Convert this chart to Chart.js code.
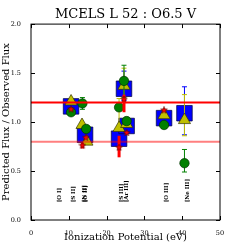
<!DOCTYPE html>
<html>
<head>
<meta charset="utf-8">
<script src="https://cdn.jsdelivr.net/npm/chart.js@4/dist/chart.umd.min.js"></script>
<style>
  html, body { margin: 0; padding: 0; background: #fff; }
  #wrap { width: 245px; height: 245px; }
</style>
</head>
<body>
<div id="wrap"><canvas id="c" width="245" height="245"></canvas></div>
<script>
// Data
const titleText = 'MCELS L 52 : O6.5 V';

const squareX = [10.6, 14.3, 23.3, 24.6, 25.3, 35.2, 40.6];
const squareY = [1.16, 0.87, 0.83, 1.34, 0.96, 1.04, 1.09];
const squareLo = [null, null, null, 1.22, null, null, 0.87];
const squareHi = [null, null, null, 1.52, null, null, 1.36];

const triX = [10.6, 13.5, 14.8, 23.3, 24.6, 25.3, 35.2, 40.6];
const triY = [1.21, 0.97, 0.80, 0.94, 1.37, 0.98, 1.07, 1.02];
const triLo = [null, null, null, 0.94, 1.20, null, null, 0.86];
const triHi = [null, null, null, 1.24, 1.55, null, null, 1.28];

const circX = [10.6, 13.6, 14.6, 23.3, 24.6, 25.3, 35.2, 40.6];
const circY = [1.10, 1.19, 0.93, 1.15, 1.42, 1.01, 0.97, 0.58];
const circLo = [null, 1.13, null, null, 1.25, null, null, 0.49];
const circHi = [null, 1.25, null, null, 1.58, null, null, 0.72];

const starX = [10.6, 13.6, 14.5, 23.3, 24.6, 25.3, 35.2];
const starY = [1.13, 0.76, 0.84, 0.74, 1.23, 0.89, 1.12];
const starLo = [null, 0.73, null, 0.64, 1.10, null, null];
const starHi = [null, 0.79, null, 0.86, 1.28, null, null];

const upperLimit = 1.2;
const lowerLimit = 0.8;

const lineLabels = ['[O I]', '[S II]', '[N II]', '[O II]', '[S III]', '[Ar III]', '[O III]', '[Ne III]'];
const lineLabelX = [7.6, 11.2, 14.1, 14.5, 24.0, 25.3, 35.8, 41.3];
const lineLabelY = 0.18;

const xTicks = [0, 10, 20, 30, 40, 50];
const yTicks = [0.0, 0.5, 1.0, 1.5, 2.0];

const SERIF = "'DejaVu Serif', serif";

function pts(xs, ys) {
  return xs.map((x, i) => ({ x, y: ys[i] }));
}

// filled star marker like matplotlib '*'
function makeStar(size, fill, edge) {
  const cv = document.createElement('canvas');
  cv.width = size; cv.height = size;
  const g = cv.getContext('2d');
  const cx = size / 2, cy = size / 2, ro = size / 2 - 0.5, ri = ro * 0.45;
  g.beginPath();
  for (let i = 0; i < 10; i++) {
    const r = i % 2 ? ri : ro;
    const a = -Math.PI / 2 + i * Math.PI / 5;
    const px = cx + r * Math.cos(a), py = cy + r * Math.sin(a);
    if (i === 0) g.moveTo(px, py); else g.lineTo(px, py);
  }
  g.closePath();
  g.fillStyle = fill;
  g.fill();
  g.lineWidth = 0.7;
  g.strokeStyle = edge;
  g.stroke();
  return cv;
}

const errorBars = {
  id: 'errorBars',
  beforeDatasetDraw(chart, args) {
    const ds = chart.data.datasets[args.index];
    if (!ds.errLo) return;
    const { ctx, scales: { x, y } } = chart;
    ctx.save();
    ctx.strokeStyle = ds.errColor;
    ctx.lineWidth = ds.errWidth || 1;
    ds.data.forEach((p, i) => {
      const lo = ds.errLo[i], hi = ds.errHi[i];
      if (lo == null) return;
      const px = x.getPixelForValue(p.x);
      const y1 = y.getPixelForValue(lo), y2 = y.getPixelForValue(hi);
      ctx.beginPath();
      ctx.moveTo(px, y1); ctx.lineTo(px, y2);
      ctx.stroke();
      if (!ds.errWidth || ds.errWidth < 2) {
        ctx.beginPath();
        ctx.moveTo(px - 2.5, y1); ctx.lineTo(px + 2.5, y1);
        ctx.moveTo(px - 2.5, y2); ctx.lineTo(px + 2.5, y2);
        ctx.stroke();
      }
    });
    ctx.restore();
  },
};

const frameAndLabels = {
  id: 'frameAndLabels',
  afterDraw(chart) {
    const { ctx, chartArea: a, scales: { x, y } } = chart;
    ctx.save();
    // rotated line labels
    ctx.fillStyle = '#000';
    ctx.font = 'bold 5.5px ' + SERIF;
    ctx.textAlign = 'left';
    ctx.textBaseline = 'middle';
    lineLabels.forEach((t, i) => {
      ctx.save();
      ctx.translate(x.getPixelForValue(lineLabelX[i]), y.getPixelForValue(lineLabelY));
      ctx.rotate(-Math.PI / 2);
      ctx.fillText(t, 0, 0);
      ctx.restore();
    });
    // inward ticks on all sides
    ctx.strokeStyle = '#000';
    ctx.lineWidth = 1;
    ctx.beginPath();
    xTicks.forEach((v) => {
      const px = Math.round(x.getPixelForValue(v)) + 0.5;
      ctx.moveTo(px, a.bottom); ctx.lineTo(px, a.bottom - 4);
      ctx.moveTo(px, a.top); ctx.lineTo(px, a.top + 4);
    });
    yTicks.forEach((v) => {
      const py = Math.round(y.getPixelForValue(v)) + 0.5;
      ctx.moveTo(a.left, py); ctx.lineTo(a.left + 4, py);
      ctx.moveTo(a.right, py); ctx.lineTo(a.right - 4, py);
    });
    ctx.stroke();
    ctx.strokeRect(a.left, a.top, a.right - a.left, a.bottom - a.top);
    ctx.restore();
  },
};

new Chart(document.getElementById('c'), {
  type: 'scatter',
  data: {
    datasets: [
      {
        label: 'limit high',
        type: 'line',
        data: [{ x: 0, y: upperLimit }, { x: 50, y: upperLimit }],
        borderColor: '#ff0000',
        borderWidth: 2,
        pointRadius: 0,
        order: 0,
      },
      {
        label: 'limit low',
        type: 'line',
        data: [{ x: 0, y: lowerLimit }, { x: 50, y: lowerLimit }],
        borderColor: 'rgba(255,0,0,0.5)',
        borderWidth: 2,
        pointRadius: 0,
        order: 1,
      },
      {
        label: 'star',
        data: pts(starX, starY),
        errLo: starLo, errHi: starHi, errColor: '#ff0000', errWidth: 3,
        pointStyle: makeStar(8, '#ff0000', '#600000'),
        order: 2,
      },
      {
        label: 'circle',
        data: pts(circX, circY),
        errLo: circLo, errHi: circHi, errColor: '#008000',
        pointStyle: 'circle',
        pointRadius: 4.7,
        backgroundColor: '#008000',
        borderColor: '#003300',
        borderWidth: 0.7,
        order: 3,
      },
      {
        label: 'triangle',
        data: pts(triX, triY),
        errLo: triLo, errHi: triHi, errColor: '#bfbf00',
        pointStyle: 'triangle',
        pointRadius: 7,
        backgroundColor: '#bfbf00',
        borderColor: '#333300',
        borderWidth: 0.7,
        order: 4,
      },
      {
        label: 'square',
        data: pts(squareX, squareY),
        errLo: squareLo, errHi: squareHi, errColor: '#0000ff',
        pointStyle: 'rect',
        pointRadius: 11,
        backgroundColor: '#0000ff',
        borderColor: '#000033',
        borderWidth: 0.7,
        order: 5,
      },
    ],
  },
  options: {
    responsive: false,
    animation: false,
    events: [],
    layout: { padding: { right: 25, left: 0, bottom: 0 } },
    plugins: {
      legend: { display: false },
      tooltip: { enabled: false },
      title: {
        display: true,
        fullSize: false,
        text: titleText,
        color: '#000',
        font: { family: SERIF, size: 13, weight: 'normal' },
        padding: { top: 7, bottom: 1.5 },
      },
    },
    scales: {
      x: {
        type: 'linear',
        min: 0, max: 50,
        afterBuildTicks: (s) => { s.ticks = xTicks.map((v) => ({ value: v })); },
        afterFit: (s) => { s.height = 25; },
        grid: { display: false },
        border: { display: false },
        ticks: { color: '#000', font: { family: SERIF, size: 6.5 }, padding: 1, maxRotation: 0 },
        title: {
          display: true,
          text: 'Ionization Potential (eV)',
          color: '#000',
          font: { family: SERIF, size: 10 },
          padding: { top: 2, bottom: 2 },
        },
      },
      y: {
        type: 'linear',
        min: 0, max: 2,
        afterBuildTicks: (s) => { s.ticks = yTicks.map((v) => ({ value: v })); },
        afterFit: (s) => { s.width = 31; },
        grid: { display: false },
        border: { display: false },
        ticks: {
          color: '#000',
          font: { family: SERIF, size: 6.5 },
          padding: 2,
          callback: (v) => v.toFixed(1),
        },
        title: {
          display: true,
          text: 'Predicted Flux / Observed Flux',
          color: '#000',
          font: { family: SERIF, size: 10 },
          padding: { top: 0, bottom: 0 },
        },
      },
    },
  },
  plugins: [errorBars, frameAndLabels],
});
</script>
</body>
</html>
